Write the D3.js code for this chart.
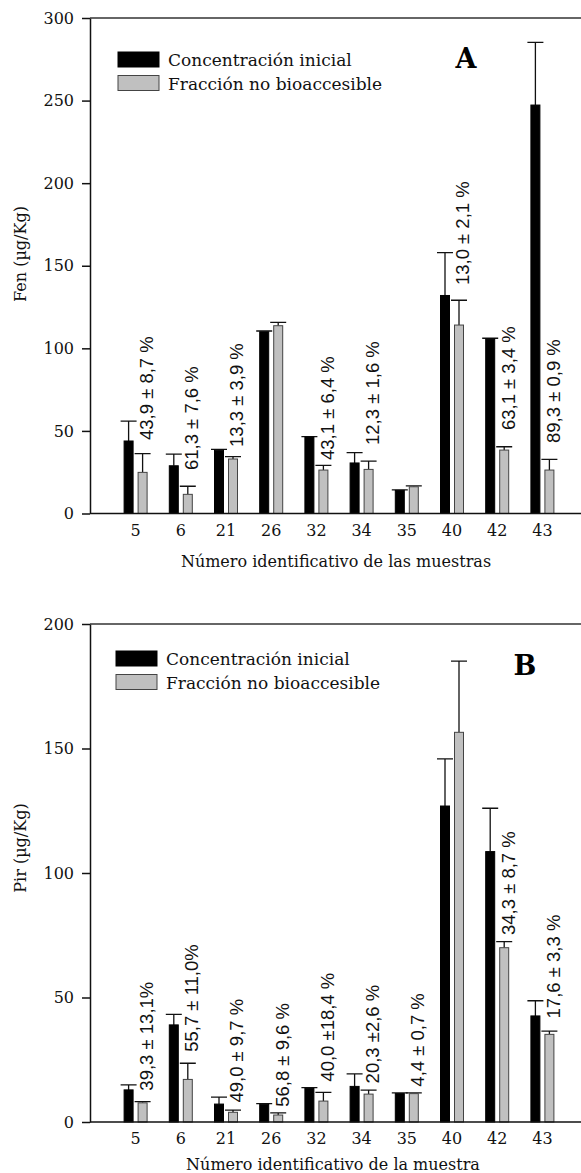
<!DOCTYPE html>
<html>
<head>
<meta charset="utf-8">
<script src="https://cdn.jsdelivr.net/npm/d3@7"></script>
<style>
  body { margin: 0; background: #fff; }
  text { font-family: "DejaVu Serif", serif; }
</style>
</head>
<body>
<svg id="chart"></svg>
<script>
const muestras = ["5", "6", "21", "26", "32", "34", "35", "40", "42", "43"]
const series = ["Concentración inicial", "Fracción no bioaccesible"]

// panel A - Fen
const fenInicial = [43.9, 28.9, 38.3, 110, 46.3, 30.6, 14, 132, 105.6, 247.3]
const fenInicialErr = [12, 7, 0.5, 0.5, 0.3, 6.2, 0.3, 26, 0.5, 38]
const fenNoBio = [24.9, 11.6, 33, 113.7, 26.3, 26.7, 16.2, 114.1, 38.4, 26.3]
const fenNoBioErr = [11.3, 4.9, 1.4, 2, 2.8, 5, 0.5, 15, 2, 6.5]
const fenNotas = ["43,9 ± 8,7 %", "61,3 ± 7,6 %", "13,3 ± 3,9 %", "", "43,1 ± 6,4 %", "12,3 ± 1,6 %", "", "13,0 ± 2,1 %", "63,1 ± 3,4 %", "89,3 ± 0,9 %"]
const fenNotasBase = [44.5, 26.3, 40.3, 0, 32.4, 41.5, 0, 138.3, 50.5, 42.7]
const fenTicks = [0, 50, 100, 150, 200, 250, 300]

// panel B - Pir
const pirInicial = [12.9, 39, 7.2, 7.1, 13.5, 14.3, 11.4, 126.9, 108.6, 42.6]
const pirInicialErr = [2, 4.2, 2.8, 0.3, 0.3, 5, 0.3, 18.9, 17.4, 6.1]
const pirNoBio = [7.7, 17.1, 3.9, 2.8, 8.4, 11.2, 11.4, 156.5, 70, 35.2]
const pirNoBioErr = [0.5, 6.5, 0.9, 0.9, 3.5, 1.6, 0.3, 28.6, 2.4, 1.3]
const pirNotas = ["39,3 ± 13,1%", "55,7 ± 11,0%", "49,0 ± 9,7 %", "56,8 ± 9,6 %", "40,0 ±18,4 %", "20,3 ±2,6 %", "4,4 ± 0,7 %", "", "34,3 ± 8,7 %", "17,6 ± 3,3 %"]
const pirNotasBase = [12.6, 28.2, 7.8, 6.1, 16.2, 15.5, 14.2, 0, 75.1, 41.6]
const pirTicks = [0, 50, 100, 150, 200]

const width = 581, height = 1173
const left = 90

const svg = d3.select("#chart").attr("width", width).attr("height", height)

const color = d3.scaleOrdinal().domain(series).range(["#000", "#c0c0c0"])

const x = d3.scaleBand().domain(muestras).range([113, 565])
const xs = d3.scaleBand().domain(series).range([x.bandwidth() / 2 - 11.5, x.bandwidth() / 2 + 11.5]).paddingInner(5 / 14)

function panel(p) {
    const y = d3.scaleLinear().domain([0, p.max]).range([p.bottom, p.top])
    const g = svg.append("g")

    const data = muestras.map((m, i) => ({
        m: m,
        vals: [
            { s: series[0], v: p.ini[i], e: p.iniErr[i] },
            { s: series[1], v: p.nb[i], e: p.nbErr[i] }
        ],
        nota: p.notas[i],
        base: p.base[i]
    }))

    // frame top line
    g.append("line")
        .attr("x1", left).attr("x2", width)
        .attr("y1", y(p.max)).attr("y2", y(p.max))
        .attr("stroke", "#333").attr("stroke-width", 1.5)

    const grp = g.selectAll("g.grp")
        .data(data)
        .join("g")
        .attr("class", "grp")
        .attr("transform", d => `translate(${x(d.m)},0)`)

    // error bars
    grp.selectAll("path.err")
        .data(d => d.vals)
        .join("path")
        .attr("class", "err")
        .attr("d", d => {
            const cx = xs(d.s) + xs.bandwidth() / 2
            const y0 = y(d.v), y1 = y(d.v + d.e)
            return `M${cx},${y0}V${y1}M${cx - 8},${y1}H${cx + 8}`
        })
        .attr("fill", "none")
        .attr("stroke", "#111")
        .attr("stroke-width", 1.3)

    grp.selectAll("rect")
        .data(d => d.vals)
        .join("rect")
        .attr("x", d => xs(d.s))
        .attr("width", xs.bandwidth())
        .attr("y", d => y(d.v))
        .attr("height", d => y(0) - y(d.v))
        .attr("fill", d => color(d.s))
        .attr("stroke", d => d.s == series[0] ? "#000" : "#444")
        .attr("stroke-width", 1)

    // percentage notes
    grp.filter(d => d.nota != "")
        .append("text")
        .attr("transform", d => `translate(${x.bandwidth() / 2 + 11},${y(d.base)}) rotate(-90)`)
        .attr("dy", "0.35em")
        .style("font-family", "'Liberation Sans', Arial, sans-serif")
        .style("font-size", "18.5px")
        .attr("fill", "#111")
        .text(d => d.nota)

    // y axis
    g.append("g")
        .attr("transform", `translate(${left},0)`)
        .call(d3.axisLeft(y).tickValues(p.ticks).tickSize(8).tickPadding(8).tickSizeOuter(0))
        .call(a => a.selectAll("path,line").attr("stroke", "#111").attr("stroke-width", 1.5))
        .call(a => a.selectAll("text").style("font-family", "'DejaVu Serif', serif").style("font-size", "16px").attr("fill", "#111"))

    // x axis
    g.append("line")
        .attr("x1", left).attr("x2", width)
        .attr("y1", y(0)).attr("y2", y(0))
        .attr("stroke", "#111").attr("stroke-width", 1.5)

    g.append("g")
        .attr("transform", `translate(0,${y(0)})`)
        .call(d3.axisBottom(x).tickSize(0).tickPadding(11))
        .call(a => a.select(".domain").remove())
        .call(a => a.selectAll("text").style("font-family", "'DejaVu Serif', serif").style("font-size", "16px").attr("fill", "#111"))

    // legend
    series.forEach((s, i) => {
        g.append("rect")
            .attr("x", p.legX).attr("y", p.legY + i * 23.5)
            .attr("width", 41).attr("height", 15)
            .attr("fill", color(s))
            .attr("stroke", i == 0 ? "#000" : "#444")
        g.append("text")
            .attr("x", p.legX + 50).attr("y", p.legY + 14 + i * 23.5)
            .style("font-size", "17px")
            .attr("fill", "#111")
            .text(s)
    })

    g.append("text")
        .attr("x", p.letterX).attr("y", p.letterY)
        .attr("text-anchor", "middle")
        .style("font-size", "27px").style("font-weight", "bold")
        .text(p.letter)

    g.append("text")
        .attr("transform", `translate(20,${p.ylabY}) rotate(-90)`)
        .attr("text-anchor", "middle")
        .attr("dy", "0.35em")
        .style("font-size", "16px")
        .attr("fill", "#111")
        .text(p.ylab)

    g.append("text")
        .attr("x", p.xlabX).attr("y", p.xlabY)
        .attr("text-anchor", "middle")
        .style("font-size", "16px")
        .attr("fill", "#111")
        .text(p.xlab)
}

panel({
    max: 300, top: 18, bottom: 513.5, ticks: fenTicks,
    ini: fenInicial, iniErr: fenInicialErr, nb: fenNoBio, nbErr: fenNoBioErr,
    notas: fenNotas, base: fenNotasBase,
    legX: 118, legY: 52, letter: "A", letterX: 466, letterY: 68,
    ylab: "Fen (µg/Kg)", ylabY: 254,
    xlab: "Número identificativo de las muestras", xlabX: 336, xlabY: 567
})

panel({
    max: 200, top: 624, bottom: 1122, ticks: pirTicks,
    ini: pirInicial, iniErr: pirInicialErr, nb: pirNoBio, nbErr: pirNoBioErr,
    notas: pirNotas, base: pirNotasBase,
    legX: 116, legY: 651, letter: "B", letterX: 525, letterY: 675,
    ylab: "Pir (µg/Kg)", ylabY: 848,
    xlab: "Número identificativo de la muestra", xlabX: 333, xlabY: 1170
})
</script>
</body>
</html>
